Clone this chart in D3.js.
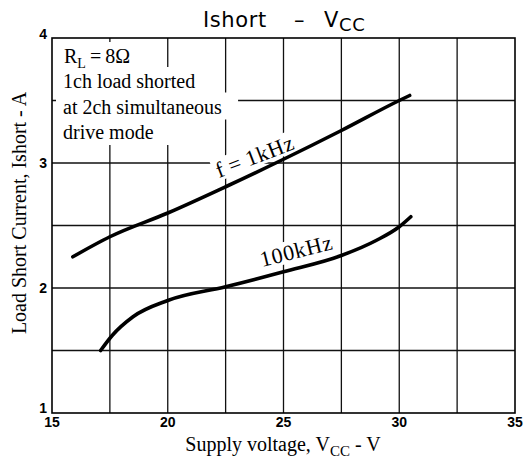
<!DOCTYPE html>
<html>
<head>
<meta charset="utf-8">
<script src="https://cdn.jsdelivr.net/npm/d3@7"></script>
<style>
  body { margin: 0; background: #fff; }
  svg { display: block; }
</style>
</head>
<body>
<script>
var w = 525;
var h = 464;

// supply voltage (V) and short current (A)
var vcc1k   = [15.9, 17.5, 20, 22.5, 25, 27.5, 30, 30.45];
var ishort1k = [2.25, 2.41, 2.60, 2.81, 3.03, 3.26, 3.50, 3.54];

var vcc100k   = [17.1, 17.6, 18.5, 20, 22.5, 25, 27.5, 29, 30, 30.5];
var ishort100k = [1.5, 1.62, 1.77, 1.90, 2.01, 2.13, 2.26, 2.38, 2.49, 2.57];

var xTicks = [15, 20, 25, 30, 35];
var yTicks = [1, 2, 3, 4];
var xGrid = [17.5, 20, 22.5, 25, 27.5, 30, 32.5];
var yGrid = [1.5, 2, 2.5, 3, 3.5];

var noteLines = ["1ch load shorted", "at 2ch simultaneous", "drive mode"];

var svg = d3.select("body")
  .append("svg")
  .attr("width", w)
  .attr("height", h);

var x = d3.scaleLinear().domain([15, 35]).range([52, 515]);
var y = d3.scaleLinear().domain([1, 4]).range([413, 38]);

var serif = "'Liberation Serif', 'Times New Roman', serif";

// grid
svg.append("g")
  .selectAll("line")
  .data(xGrid)
  .enter()
  .append("line")
  .attr("x1", d => x(d)).attr("x2", d => x(d))
  .attr("y1", y(1)).attr("y2", y(4))
  .attr("stroke", "#111")
  .attr("stroke-width", 1.3);

svg.append("g")
  .selectAll("line")
  .data(yGrid)
  .enter()
  .append("line")
  .attr("x1", x(15)).attr("x2", x(35))
  .attr("y1", d => y(d)).attr("y2", d => y(d))
  .attr("stroke", "#111")
  .attr("stroke-width", 1.3);

// annotation block, each line on a white patch that hides the grid
var note = svg.append("g");
function noteLine(ty, padR, build) {
  var t = note.append("text")
    .attr("x", 63)
    .attr("y", ty)
    .attr("font-family", serif)
    .attr("font-size", 20)
    .attr("fill", "#000");
  build(t);
  var b = t.node().getBBox();
  note.insert("rect", "text")
    .attr("x", 56)
    .attr("y", b.y - 3)
    .attr("width", b.x + b.width + padR - 56)
    .attr("height", b.height + 5)
    .attr("fill", "#fff");
}
noteLine(63, 20, function(t) {
  t.append("tspan").attr("dx", 1).text("R");
  t.append("tspan").attr("font-size", 14).attr("dy", 5).text("L");
  t.append("tspan").attr("dy", -5).text("\u2009=\u20098\u03A9");
});
noteLines.forEach(function(s, i) {
  noteLine(88 + i * 25.5, 16, function(t) { t.text(s); });
});

// curve labels on white patches
function curveLabel(px, py, angle, txt) {
  var g = svg.append("g")
    .attr("transform", "translate(" + px + "," + py + ") rotate(" + angle + ")");
  var t = g.append("text")
    .attr("font-family", serif)
    .attr("font-size", 22)
    .attr("letter-spacing", 0.8)
    .text(txt);
  var b = t.node().getBBox();
  g.insert("rect", "text")
    .attr("x", b.x - 3).attr("y", b.y + 1)
    .attr("width", b.width + 6).attr("height", b.height - 3)
    .attr("fill", "#fff");
}
curveLabel(219, 178, -21, "f\u2009=\u20091kHz");
curveLabel(262, 267, -14, "100kHz");

// curves
var line = d3.line()
  .x(d => x(d[0]))
  .y(d => y(d[1]))
  .curve(d3.curveMonotoneX);

svg.append("path")
  .attr("d", line(d3.zip(vcc1k, ishort1k)))
  .attr("fill", "none")
  .attr("stroke", "#000")
  .attr("stroke-width", 3.6)
  .attr("stroke-linecap", "round");

svg.append("path")
  .attr("d", line(d3.zip(vcc100k, ishort100k)))
  .attr("fill", "none")
  .attr("stroke", "#000")
  .attr("stroke-width", 3.6)
  .attr("stroke-linecap", "round");

// frame
svg.append("rect")
  .attr("x", x(15)).attr("y", y(4))
  .attr("width", x(35) - x(15))
  .attr("height", y(1) - y(4))
  .attr("fill", "none")
  .attr("stroke", "#000")
  .attr("stroke-width", 1.6);

// tick labels
svg.append("g")
  .selectAll("text")
  .data(xTicks)
  .enter()
  .append("text")
  .attr("x", d => x(d))
  .attr("y", 427)
  .attr("text-anchor", "middle")
  .attr("font-family", "'Liberation Sans', Arial, sans-serif")
  .attr("font-weight", "bold")
  .attr("font-size", 14)
  .text(d => d);

svg.append("g")
  .selectAll("text")
  .data(yTicks)
  .enter()
  .append("text")
  .attr("x", 47)
  .attr("y", function(d) {
    if (d == 4) return y(d) + 1;
    if (d == 1) return y(d);
    return y(d) + 5;
  })
  .attr("text-anchor", "end")
  .attr("font-family", "'Liberation Sans', Arial, sans-serif")
  .attr("font-weight", "bold")
  .attr("font-size", 14)
  .text(d => d);

// title
var title = svg.append("text")
  .attr("x", 203)
  .attr("y", 27)
  .attr("font-family", "'DejaVu Sans', sans-serif")
  .attr("font-size", 21)
  .attr("letter-spacing", 0.6);
title.append("tspan").text("Ishort");
title.append("tspan").attr("x", 294).text("\u2013");
title.append("tspan").attr("x", 324).text("V");
title.append("tspan").attr("font-size", 18).attr("dy", 4).text("CC");

// axis titles
var xt = svg.append("text")
  .attr("x", 283)
  .attr("y", 451)
  .attr("text-anchor", "middle")
  .attr("font-family", serif)
  .attr("font-size", 20);
xt.append("tspan").text("Supply voltage, V");
xt.append("tspan").attr("font-size", 15).attr("dy", 5).text("CC");
xt.append("tspan").attr("dy", -5).text(" - V");

svg.append("text")
  .attr("transform", "translate(26,213) rotate(-90)")
  .attr("text-anchor", "middle")
  .attr("font-family", serif)
  .attr("font-size", 20)
  .text("Load Short Current, Ishort - A");
</script>
</body>
</html>
